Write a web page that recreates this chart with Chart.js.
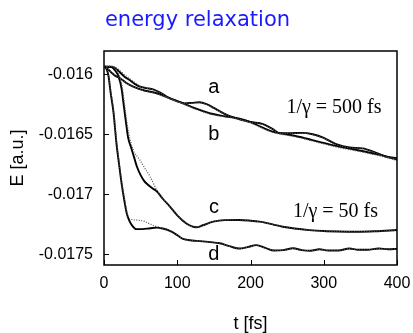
<!DOCTYPE html>
<html>
<head>
<meta charset="utf-8">
<script src="https://cdn.jsdelivr.net/npm/chart.js@4"></script>
<style>
  html, body { margin: 0; padding: 0; background: #fff; }
  #wrap { width: 413px; height: 333px; }
</style>
</head>
<body>
<div id="wrap"><canvas id="chart"></canvas></div>
<script>
// axis ticks
const xTicks = [0, 100, 200, 300, 400];
const yTicks = [-0.016, -0.0165, -0.017, -0.0175];

// curve a (1/gamma = 500 fs, oscillating)
const aT = [0, 8, 15, 22, 28, 35, 42, 49, 58, 67, 76, 88, 100, 110, 120, 130, 140, 150, 160, 170, 185, 200, 217, 230, 240, 255, 270, 285, 300, 317, 335, 353, 370, 385, 400];
const aE = [-0.015937, -0.015937, -0.015948, -0.015985, -0.016020, -0.016048, -0.016080, -0.016103, -0.016115, -0.016125, -0.016150, -0.016195, -0.016225, -0.016242, -0.016238, -0.016233, -0.016248, -0.016280, -0.016315, -0.016345, -0.016375, -0.016398, -0.016415, -0.016455, -0.016490, -0.016490, -0.016488, -0.016500, -0.016530, -0.016583, -0.016610, -0.016617, -0.016650, -0.016685, -0.016700];
// dotted companion of a
const aDotT = [0, 8, 15, 22, 28, 35, 42, 49, 58, 67, 76, 88, 100, 110, 120, 130, 140, 150, 160, 170, 185, 200, 217, 230, 240, 255, 270, 285, 300, 317, 335, 353, 370, 385, 400];
const aDotE = [-0.015937, -0.015930, -0.015940, -0.015970, -0.016005, -0.016035, -0.016070, -0.016098, -0.016115, -0.016127, -0.016152, -0.016197, -0.016227, -0.016244, -0.016240, -0.016236, -0.016250, -0.016282, -0.016317, -0.016347, -0.016378, -0.016400, -0.016418, -0.016458, -0.016492, -0.016493, -0.016491, -0.016503, -0.016533, -0.016586, -0.016612, -0.016620, -0.016653, -0.016688, -0.016705];

// curve b (1/gamma = 500 fs, smooth)
const bT = [0, 5, 10, 16, 22, 30, 40, 55, 72, 90, 108, 125, 144, 165, 185, 200, 215, 230, 244, 260, 276, 295, 321, 340, 357, 375, 400];
const bE = [-0.015937, -0.015955, -0.015985, -0.016015, -0.016033, -0.016070, -0.016103, -0.016135, -0.016158, -0.016200, -0.016242, -0.016285, -0.016325, -0.016350, -0.016370, -0.016398, -0.016440, -0.016478, -0.016495, -0.016512, -0.016535, -0.016565, -0.016603, -0.016625, -0.016645, -0.016670, -0.016710];
const bDotE = [-0.015937, -0.015953, -0.015982, -0.016012, -0.016032, -0.016070, -0.016105, -0.016138, -0.016162, -0.016204, -0.016246, -0.016290, -0.016330, -0.016355, -0.016375, -0.016404, -0.016446, -0.016484, -0.016502, -0.016519, -0.016542, -0.016573, -0.016611, -0.016633, -0.016653, -0.016678, -0.016718];

// curve c (1/gamma = 50 fs)
const cT = [0, 10, 16, 20, 24, 27, 30, 33, 37, 41, 45, 50, 55, 60, 66, 72, 80, 90, 100, 112, 120, 126, 135, 149, 165, 185, 200, 212, 230, 244, 260, 280, 300, 320, 344, 370, 400];
const cE = [-0.015937, -0.015940, -0.015975, -0.016020, -0.016120, -0.016260, -0.016400, -0.016530, -0.016610, -0.016690, -0.016770, -0.016840, -0.016890, -0.016920, -0.016950, -0.016975, -0.017035, -0.017103, -0.017175, -0.017242, -0.017268, -0.017275, -0.017258, -0.017228, -0.017215, -0.017214, -0.017220, -0.017228, -0.017250, -0.017270, -0.017285, -0.017298, -0.017306, -0.017310, -0.017312, -0.017308, -0.017298];
const cDotT = [0, 10, 17, 21, 25, 28, 31, 34, 40, 49, 56, 63, 72, 80, 90, 100, 112, 120, 126, 135, 149, 165, 185, 200, 212, 230, 244, 260, 280, 300, 320, 344, 370, 400];
const cDotE = [-0.015937, -0.015935, -0.015965, -0.016010, -0.016110, -0.016250, -0.016390, -0.016500, -0.016631, -0.016714, -0.016785, -0.016853, -0.016964, -0.017033, -0.017103, -0.017175, -0.017242, -0.017268, -0.017275, -0.017258, -0.017228, -0.017215, -0.017214, -0.017220, -0.017228, -0.017250, -0.017270, -0.017285, -0.017298, -0.017306, -0.017310, -0.017312, -0.017308, -0.017298];

// curve d (1/gamma = 50 fs)
const dT = [0, 3, 6, 9, 13, 17, 21, 24, 28, 31, 35, 39, 44, 52, 63, 72, 80, 90, 100, 108, 120, 131, 145, 158, 171, 185, 196, 208, 221, 232, 245, 258, 270, 282, 294, 306, 320, 335, 347, 360, 375, 388, 400];
const dE = [-0.015937, -0.015950, -0.016010, -0.016150, -0.016320, -0.016575, -0.016770, -0.016908, -0.017060, -0.017158, -0.017225, -0.017265, -0.017290, -0.017290, -0.017283, -0.017278, -0.017285, -0.017305, -0.017340, -0.017372, -0.017385, -0.017390, -0.017398, -0.017408, -0.017432, -0.017452, -0.017440, -0.017423, -0.017448, -0.017468, -0.017465, -0.017450, -0.017465, -0.017470, -0.017458, -0.017468, -0.017468, -0.017452, -0.017462, -0.017462, -0.017452, -0.017458, -0.017455];
const dDotT = [0, 3, 6, 9, 13, 17, 21, 24, 28, 31, 33, 38, 45, 55, 62, 70, 78, 90, 100, 108, 120, 131, 145, 158, 171, 185, 196, 208, 221, 232, 245, 258, 270, 282, 294, 306, 320, 335, 347, 360, 375, 388, 400];
const dDotE = [-0.015937, -0.015948, -0.016000, -0.016130, -0.016300, -0.016550, -0.016750, -0.016890, -0.017040, -0.017140, -0.017187, -0.017210, -0.017215, -0.017225, -0.017245, -0.017265, -0.017278, -0.017305, -0.017340, -0.017372, -0.017385, -0.017390, -0.017398, -0.017408, -0.017432, -0.017452, -0.017440, -0.017423, -0.017448, -0.017468, -0.017465, -0.017450, -0.017465, -0.017470, -0.017458, -0.017468, -0.017468, -0.017452, -0.017462, -0.017462, -0.017452, -0.017458, -0.017455];

// labels on the curves
const curveNames = ['a', 'b', 'c', 'd'];
const curveNameT = [150, 150, 150, 150];
const curveNameE = [-0.016114, -0.016498, -0.017110, -0.017500];
const gammaNames = ['1/\u03b3 = 500 fs', '1/\u03b3 = 50 fs'];
const gammaT = [314, 316];
const gammaE = [-0.016281, -0.017148];

const toPoints = (ts, es) => ts.map((t, i) => ({ x: t, y: es[i] }));

const solid = (label, ts, es) => ({
    label, data: toPoints(ts, es),
    borderColor: '#000', borderWidth: 1.9, pointRadius: 0,
    cubicInterpolationMode: 'monotone', fill: false
});
const dotted = (label, ts, es) => ({
    label, data: toPoints(ts, es),
    borderColor: '#555', borderWidth: 1.2, borderDash: [1, 1.5], pointRadius: 0,
    cubicInterpolationMode: 'monotone', fill: false
});

// frame, inward ticks, title and curve labels
const decorPlugin = {
    id: 'decor',
    afterDatasetsDraw(chart) {
        const { ctx, chartArea: area, scales: { x, y } } = chart;
        ctx.save();
        ctx.strokeStyle = '#000';
        ctx.lineWidth = 1;
        xTicks.forEach(v => {
            const px = Math.round(x.getPixelForValue(v)) + 0.5;
            ctx.beginPath(); ctx.moveTo(px, area.bottom); ctx.lineTo(px, area.bottom - 5); ctx.stroke();
        });
        yTicks.forEach(v => {
            const py = Math.round(y.getPixelForValue(v)) + 0.5;
            ctx.beginPath(); ctx.moveTo(area.left, py); ctx.lineTo(area.left + 5, py); ctx.stroke();
        });
        ctx.lineWidth = 1.5;
        ctx.strokeRect(area.left, area.top, area.right - area.left, area.bottom - area.top);

        ctx.fillStyle = '#000';
        ctx.textAlign = 'center';
        ctx.textBaseline = 'middle';
        ctx.font = '20px "Liberation Sans", Arial, sans-serif';
        curveNames.forEach((s, i) => {
            ctx.fillText(s, x.getPixelForValue(curveNameT[i]), y.getPixelForValue(curveNameE[i]));
        });
        ctx.font = '20px "Liberation Serif", "Times New Roman", serif';
        gammaNames.forEach((s, i) => {
            ctx.fillText(s, x.getPixelForValue(gammaT[i]), y.getPixelForValue(gammaE[i]));
        });

        ctx.fillStyle = '#1a1aff';
        ctx.textBaseline = 'alphabetic';
        ctx.font = '21px "DejaVu Sans", sans-serif';
        ctx.fillText('energy relaxation', 197.5, 25.7);
        ctx.restore();
    }
};

new Chart(document.getElementById('chart'), {
    type: 'line',
    data: {
        datasets: [
            dotted('a dotted', aDotT, aDotE),
            dotted('b dotted', bT, bDotE),
            dotted('c dotted', cDotT, cDotE),
            dotted('d dotted', dDotT, dDotE),
            solid('a', aT, aE),
            solid('b', bT, bE),
            solid('c', cT, cE),
            solid('d', dT, dE)
        ]
    },
    options: {
        responsive: true,
        maintainAspectRatio: false,
        animation: false,
        devicePixelRatio: 1,
        layout: { padding: { top: 51, right: 16, left: 0, bottom: 0 } },
        plugins: { legend: { display: false }, tooltip: { enabled: false } },
        scales: {
            x: {
                type: 'linear', min: 0, max: 400,
                afterFit: s => { s.height = 68; s.paddingLeft = 0; s.paddingRight = 0; },
                afterBuildTicks: s => { s.ticks = xTicks.map(v => ({ value: v })); },
                grid: { display: false, drawTicks: false },
                border: { display: false },
                ticks: { color: '#000', padding: 9, maxRotation: 0, font: { family: '"Liberation Sans", Arial, sans-serif', size: 16 } },
                title: { display: true, text: 't [fs]', color: '#000', padding: { top: 0, bottom: 0 }, font: { family: '"Liberation Sans", Arial, sans-serif', size: 18, lineHeight: 1 } }
            },
            y: {
                type: 'linear', min: -0.017589, max: -0.015806,
                afterFit: s => { s.width = 104; s.paddingTop = 0; s.paddingBottom = 0; },
                afterBuildTicks: s => { s.ticks = yTicks.map(v => ({ value: v })); },
                grid: { display: false, drawTicks: false },
                border: { display: false },
                ticks: { color: '#000', padding: 11, callback: v => String(v), font: { family: '"Liberation Sans", Arial, sans-serif', size: 16 } },
                title: { display: true, text: 'E [a.u.]', color: '#000', padding: { top: 7, bottom: 0 }, font: { family: '"Liberation Sans", Arial, sans-serif', size: 18, lineHeight: 1.2 } }
            }
        }
    },
    plugins: [decorPlugin]
});
</script>
</body>
</html>
